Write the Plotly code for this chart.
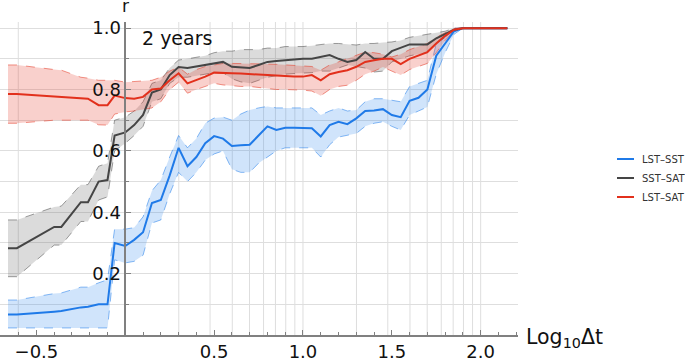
import numpy as np
import plotly.graph_objects as go

# log10(Δt) sample positions
log_dt = [-0.66, -0.61, -0.40, -0.36, -0.25, -0.21, -0.15, -0.10, -0.06, 0.0,
          0.05, 0.10, 0.15, 0.20, 0.25, 0.30, 0.35, 0.40, 0.45, 0.50,
          0.55, 0.60, 0.65, 0.70, 0.75, 0.80, 0.85, 0.90, 0.95, 1.00,
          1.05, 1.10, 1.15, 1.20, 1.25, 1.30, 1.35, 1.40, 1.45, 1.50,
          1.55, 1.60, 1.65, 1.70, 1.75, 1.80, 1.85, 1.90, 2.00, 2.15]

lst_sst = [0.067, 0.067, 0.076, 0.078, 0.090, 0.092, 0.100, 0.100, 0.300, 0.290,
           0.310, 0.335, 0.430, 0.440, 0.520, 0.610, 0.550, 0.580, 0.625, 0.648,
           0.640, 0.616, 0.618, 0.620, 0.650, 0.680, 0.668, 0.675, 0.675, 0.675,
           0.674, 0.647, 0.684, 0.695, 0.687, 0.706, 0.730, 0.732, 0.736, 0.717,
           0.710, 0.763, 0.773, 0.800, 0.910, 0.950, 0.990, 1.000, 1.000, 1.000]
lst_sst_lo = [0.023, 0.023, 0.023, 0.023, 0.023, 0.023, 0.023, 0.023, 0.245, 0.235,
              0.240, 0.260, 0.365, 0.375, 0.460, 0.530, 0.500, 0.530, 0.570, 0.590,
              0.600, 0.540, 0.530, 0.530, 0.560, 0.580, 0.600, 0.610, 0.610, 0.610,
              0.610, 0.580, 0.620, 0.645, 0.650, 0.657, 0.680, 0.690, 0.695, 0.680,
              0.668, 0.717, 0.730, 0.743, 0.850, 0.920, 0.980, 1.000, 1.000, 1.000]
lst_sst_hi = [0.114, 0.114, 0.135, 0.137, 0.156, 0.156, 0.170, 0.180, 0.345, 0.345,
              0.350, 0.385, 0.470, 0.505, 0.580, 0.650, 0.610, 0.640, 0.690, 0.707,
              0.710, 0.700, 0.720, 0.733, 0.740, 0.745, 0.740, 0.740, 0.740, 0.740,
              0.740, 0.717, 0.730, 0.740, 0.730, 0.733, 0.760, 0.770, 0.770, 0.765,
              0.760, 0.810, 0.820, 0.830, 0.950, 0.970, 1.000, 1.000, 1.000, 1.000]

sst_sat = [0.283, 0.283, 0.352, 0.352, 0.433, 0.433, 0.500, 0.505, 0.650, 0.660,
           0.684, 0.717, 0.790, 0.800, 0.847, 0.873, 0.870, 0.875, 0.880, 0.885,
           0.890, 0.874, 0.872, 0.870, 0.880, 0.890, 0.893, 0.896, 0.898, 0.900,
           0.900, 0.905, 0.912, 0.900, 0.890, 0.896, 0.922, 0.900, 0.900, 0.925,
           0.935, 0.947, 0.947, 0.947, 0.967, 0.980, 0.995, 1.000, 1.000, 1.000]
sst_sat_lo = [0.190, 0.190, 0.293, 0.293, 0.370, 0.370, 0.440, 0.450, 0.600, 0.625,
              0.650, 0.680, 0.760, 0.770, 0.820, 0.840, 0.840, 0.845, 0.850, 0.855,
              0.855, 0.835, 0.825, 0.820, 0.830, 0.840, 0.845, 0.850, 0.852, 0.853,
              0.855, 0.860, 0.860, 0.870, 0.880, 0.875, 0.870, 0.857, 0.860, 0.890,
              0.900, 0.910, 0.915, 0.920, 0.950, 0.970, 0.990, 1.000, 1.000, 1.000]
sst_sat_hi = [0.375, 0.375, 0.417, 0.420, 0.490, 0.490, 0.550, 0.560, 0.700, 0.710,
              0.730, 0.760, 0.820, 0.830, 0.870, 0.896, 0.900, 0.905, 0.910, 0.920,
              0.925, 0.925, 0.930, 0.930, 0.930, 0.935, 0.935, 0.940, 0.940, 0.940,
              0.943, 0.947, 0.950, 0.950, 0.948, 0.945, 0.950, 0.950, 0.953, 0.955,
              0.960, 0.970, 0.975, 0.980, 0.985, 0.990, 1.000, 1.000, 1.000, 1.000]

lst_sat = [0.785, 0.785, 0.777, 0.775, 0.771, 0.770, 0.749, 0.749, 0.780, 0.772,
           0.770, 0.776, 0.800, 0.803, 0.830, 0.853, 0.820, 0.830, 0.842, 0.855,
           0.855, 0.853, 0.852, 0.850, 0.848, 0.846, 0.844, 0.842, 0.842, 0.842,
           0.847, 0.830, 0.850, 0.857, 0.863, 0.874, 0.890, 0.895, 0.900, 0.900,
           0.883, 0.900, 0.910, 0.922, 0.950, 0.975, 0.995, 1.000, 1.000, 1.000]
lst_sat_lo = [0.690, 0.690, 0.700, 0.700, 0.700, 0.700, 0.685, 0.684, 0.720, 0.727,
              0.730, 0.735, 0.740, 0.760, 0.800, 0.824, 0.788, 0.800, 0.810, 0.820,
              0.815, 0.812, 0.810, 0.810, 0.806, 0.803, 0.800, 0.800, 0.800, 0.798,
              0.795, 0.780, 0.800, 0.810, 0.814, 0.830, 0.850, 0.860, 0.873, 0.860,
              0.847, 0.865, 0.875, 0.885, 0.920, 0.960, 0.990, 1.000, 1.000, 1.000]
lst_sat_hi = [0.880, 0.880, 0.865, 0.863, 0.840, 0.837, 0.830, 0.830, 0.830, 0.824,
              0.826, 0.828, 0.830, 0.840, 0.860, 0.873, 0.850, 0.865, 0.875, 0.880,
              0.885, 0.885, 0.885, 0.885, 0.884, 0.883, 0.882, 0.880, 0.878, 0.876,
              0.875, 0.863, 0.880, 0.890, 0.900, 0.910, 0.922, 0.920, 0.915, 0.906,
              0.915, 0.930, 0.940, 0.950, 0.970, 0.985, 1.000, 1.000, 1.000, 1.000]

series_names = ["LST\u2013SST", "SST\u2013SAT", "LST\u2013SAT"]
x_tick_vals = [-0.5, 0.5, 1.0, 1.5, 2.0]
x_tick_text = ["\u22120.5", "0.5", "1.0", "1.5", "2.0"]
y_tick_vals = [0.2, 0.4, 0.6, 0.8, 1.0]
y_tick_text = ["0.2", "0.4", "0.6", "0.8", "1.0"]
grid_dt = [0.25, 1, 2, 3, 4, 5, 6, 7, 8, 9, 10, 20, 30, 40, 50, 60, 70, 80, 90, 100]

line_colors = ["#1f7ae8", "#454545", "#e2301c"]
fill_colors = ["rgba(40,130,235,0.22)", "rgba(90,90,90,0.22)", "rgba(230,60,40,0.24)"]
edge_colors = ["rgba(40,130,235,0.55)", "rgba(80,80,80,0.55)", "rgba(230,60,40,0.55)"]

means = [lst_sst, sst_sat, lst_sat]
los = [lst_sst_lo, sst_sat_lo, lst_sat_lo]
his = [lst_sst_hi, sst_sat_hi, lst_sat_hi]

fig = go.Figure()
for i in range(3):
    fig.add_trace(go.Scatter(x=log_dt, y=los[i], mode="lines",
                             line=dict(color=edge_colors[i], width=1, dash="dash"),
                             showlegend=False, hoverinfo="skip"))
    fig.add_trace(go.Scatter(x=log_dt, y=his[i], mode="lines", fill="tonexty",
                             fillcolor=fill_colors[i],
                             line=dict(color=edge_colors[i], width=1, dash="dash"),
                             showlegend=False, hoverinfo="skip"))
for i in range(3):
    fig.add_trace(go.Scatter(x=log_dt, y=means[i], mode="lines", name=series_names[i],
                             line=dict(color=line_colors[i], width=2), showlegend=False))

# geometry (pixels) of the plotting area
W, H = 685, 358
L, R, T, B = 0, 167, 22, 23
pw, ph = W - L - R, H - T - B

def px_x(p):
    return (p - L) / pw

def px_y(p):
    return (H - B - p) / ph

xmin, xmax = -0.705, 2.21
shapes = []
for v in np.log10(grid_dt):
    shapes.append(dict(type="line", xref="x", yref="paper", x0=v, x1=v, y0=0, y1=1,
                       line=dict(color="#dedede", width=1), layer="below"))

font_main = "DejaVu Sans"
annotations = [
    dict(x=0, y=1, xref="x", yref="paper", text="r", showarrow=False,
         yanchor="bottom", yshift=4, font=dict(size=17, family=font_main, color="#111")),
    dict(x=px_x(524), y=0, xref="paper", yref="paper", text="Log<sub>10</sub>\u0394t",
         showarrow=False, xanchor="left", yanchor="middle", yshift=-3,
         font=dict(size=20.5, family=font_main, color="#111")),
    dict(x=0.085, y=0.968, xref="x", yref="y", text="2 years", showarrow=False,
         xanchor="left", yanchor="middle", font=dict(size=19, family=font_main, color="#111")),
]

# custom legend
leg_y = [159, 178, 197]
for i in range(3):
    shapes.append(dict(type="line", xref="paper", yref="paper",
                       x0=px_x(617), x1=px_x(634), y0=px_y(leg_y[i]), y1=px_y(leg_y[i]),
                       line=dict(color=line_colors[i], width=2)))
    annotations.append(dict(x=px_x(640), y=px_y(leg_y[i]), xref="paper", yref="paper",
                            text=series_names[i], showarrow=False, xanchor="left",
                            yanchor="middle", font=dict(size=10, family=font_main, color="#333")))

fig.update_layout(
    width=W, height=H,
    margin=dict(l=L, r=R, t=T, b=B),
    plot_bgcolor="white", paper_bgcolor="white",
    font=dict(family=font_main, color="#111"),
    shapes=shapes,
    annotations=annotations,
    showlegend=False,
    xaxis=dict(range=[xmin, xmax], domain=[0, 1], tickvals=x_tick_vals, ticktext=x_tick_text,
               ticks="inside", ticklen=5, tickcolor="#808080", showline=True,
               linecolor="#808080", linewidth=1.5, showgrid=False, zeroline=False,
               automargin=False,
               tickfont=dict(size=18, family=font_main, color="#111"),
               minor=dict(dtick=0.1, tick0=0, ticks="inside", ticklen=3,
                          tickcolor="#808080", showgrid=False)),
    yaxis=dict(range=[0, 1.02], anchor="free", position=(0 - xmin) / (xmax - xmin),
               tickvals=y_tick_vals, ticktext=y_tick_text, ticks="inside", ticklen=5,
               tickcolor="#808080", showline=True, linecolor="#808080", linewidth=1.5,
               showgrid=True, gridcolor="#dedede", gridwidth=1, zeroline=False,
               automargin=False,
               tickfont=dict(size=18, family=font_main, color="#111"),
               minor=dict(tickvals=[0.1, 0.3, 0.5, 0.7, 0.9], ticks="inside", ticklen=3,
                          tickcolor="#808080", showgrid=True, gridcolor="#dedede",
                          gridwidth=1)),
)

fig.write_html("out.html", config={"displayModeBar": False},
               post_script="document.body.style.margin='0px';document.body.style.overflow='hidden';")
